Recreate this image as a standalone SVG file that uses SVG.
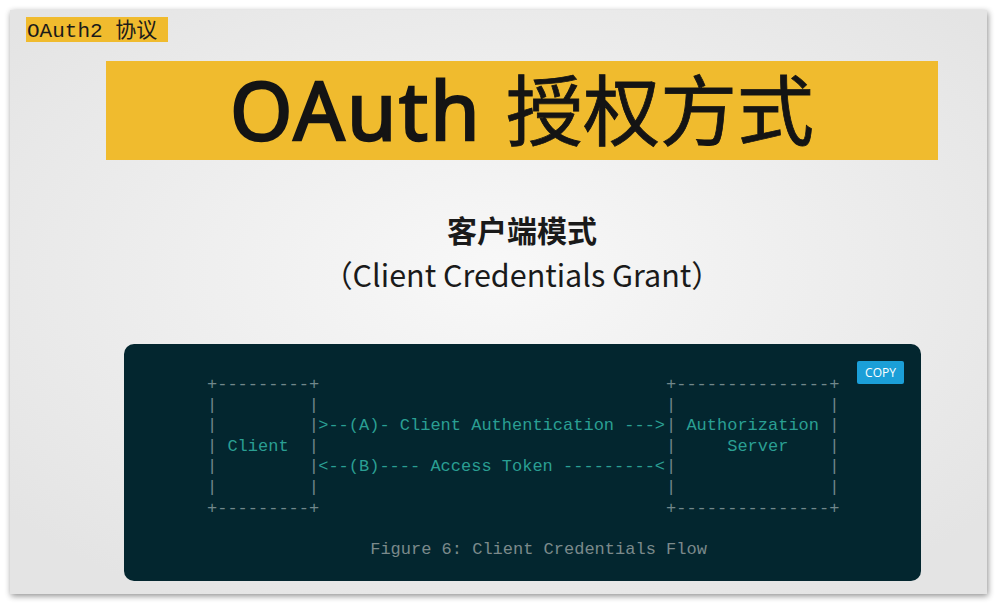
<svg xmlns="http://www.w3.org/2000/svg" width="997" height="605" viewBox="0 0 997 605">
<style>
.mono{font-family:"Liberation Mono","DejaVu Sans Mono",monospace;font-size:17px;white-space:pre}
.box{fill:#71878b}
.flow{fill:#2a9f93}
.cap{fill:#7b8a8b}
</style>
<defs>
<radialGradient id="bg" cx="0.5" cy="0.45" r="0.65">
<stop offset="0" stop-color="#f8f8f8"/>
<stop offset="1" stop-color="#e4e4e4"/>
</radialGradient>
<filter id="sh" x="-5%" y="-5%" width="110%" height="110%">
<feGaussianBlur in="SourceAlpha" stdDeviation="3"/>
<feOffset dx="1" dy="2"/>
<feComponentTransfer><feFuncA type="linear" slope="0.45"/></feComponentTransfer>
<feMerge><feMergeNode/><feMergeNode in="SourceGraphic"/></feMerge>
</filter>
</defs>
<rect width="997" height="605" fill="#ffffff"/>
<rect x="10" y="10" width="977" height="584" fill="url(#bg)" filter="url(#sh)"/>

<g id="header">
<rect x="26" y="17" width="142" height="25" fill="#f0bb2e"/>
<text x="27" y="37" font-family="Liberation Mono, 'Noto Sans CJK SC', monospace" font-size="21" fill="#1a1a1a" xml:space="preserve">OAuth2 协议</text>
</g>

<g id="title">
<rect x="106" y="61" width="832" height="99" fill="#f0bb2e"/>
<text x="230" y="140" font-family="'Noto Sans','Noto Sans CJK SC',sans-serif" font-size="80" fill="#141414"><tspan stroke="#141414" stroke-width="2.4" letter-spacing="2.5">OAuth</tspan> <tspan x="506" font-size="77" stroke="#141414" stroke-width="0.8">授权方式</tspan></text>
</g>

<g id="subtitle">
<text x="522" y="242" text-anchor="middle" font-family="'Noto Sans CJK SC',sans-serif" font-weight="bold" font-size="30" fill="#1a1a1a">客户端模式</text>
<text x="522" y="287" text-anchor="middle" font-family="'Noto Sans CJK SC',sans-serif" font-size="30.5" fill="#1a1a1a">（Client Credentials Grant）</text>
</g>

<g id="code-panel">
<rect x="124" y="344" width="797" height="237" rx="10" fill="#03262f"/>
<g id="copy-button">
<rect x="857" y="361" width="47" height="23" rx="2" fill="#1b9fd8"/>
<text x="880.5" y="377" text-anchor="middle" font-family="'Open Sans','Noto Sans',sans-serif" font-size="12" fill="#ffffff">COPY</text>
</g>
</g>

<g id="client">
<text class="mono box" x="207" y="389">+---------+</text>
<text class="mono box" x="207" y="409.6">|</text><text class="mono box" x="308.8" y="409.6">|</text>
<text class="mono box" x="207" y="430.2">|</text><text class="mono box" x="308.8" y="430.2">|</text>
<text class="mono box" x="207" y="450.8">|</text><text class="mono box" x="308.8" y="450.8">|</text>
<text class="mono box" x="207" y="471.4">|</text><text class="mono box" x="308.8" y="471.4">|</text>
<text class="mono box" x="207" y="492">|</text><text class="mono box" x="308.8" y="492">|</text>
<text class="mono box" x="207" y="512.6">+---------+</text>
<text class="mono flow" x="227.4" y="450.8">Client</text>
</g>

<g id="authorization-server">
<text class="mono box" x="666" y="389">+---------------+</text>
<text class="mono box" x="666" y="409.6">|</text><text class="mono box" x="829.2" y="409.6">|</text>
<text class="mono box" x="666" y="430.2">|</text><text class="mono box" x="829.2" y="430.2">|</text>
<text class="mono box" x="666" y="450.8">|</text><text class="mono box" x="829.2" y="450.8">|</text>
<text class="mono box" x="666" y="471.4">|</text><text class="mono box" x="829.2" y="471.4">|</text>
<text class="mono box" x="666" y="492">|</text><text class="mono box" x="829.2" y="492">|</text>
<text class="mono box" x="666" y="512.6">+---------------+</text>
<text class="mono flow" x="686.4" y="430.2">Authorization</text>
<text class="mono flow" x="727.2" y="450.8">Server</text>
</g>

<g id="connectors">
<text class="mono flow" x="318.2" y="430.2">&gt;--(A)- Client Authentication ---&gt;</text>
<text class="mono flow" x="318.2" y="471.4">&lt;--(B)---- Access Token ---------&lt;</text>
</g>

<g id="caption">
<text class="mono cap" x="370.2" y="554">Figure 6: Client Credentials Flow</text>
</g>
</svg>
